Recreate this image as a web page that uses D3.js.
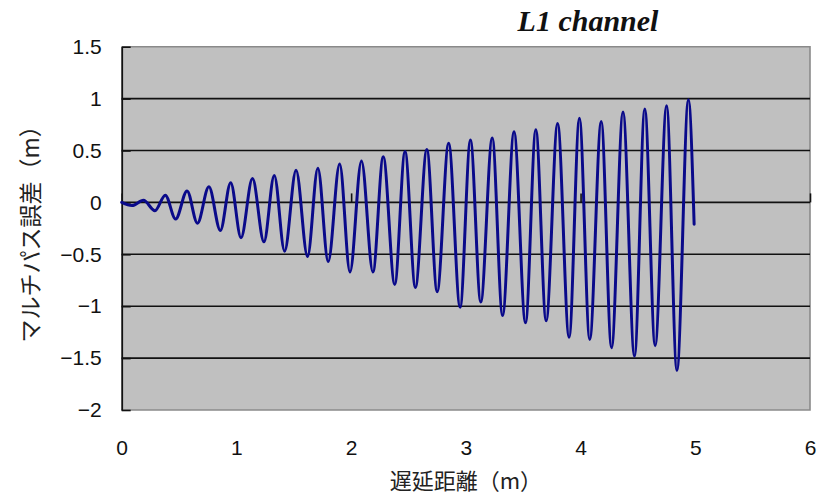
<!DOCTYPE html>
<html>
<head>
<meta charset="utf-8">
<script src="https://cdn.jsdelivr.net/npm/d3@7"></script>
<style>
  html, body { margin: 0; padding: 0; background: #fff; }
  svg { display: block; }
</style>
</head>
<body>
<svg id="chart" width="828" height="498"></svg>
<script>
// Multipath error of the L1 channel against the delay of the reflected path.
// Points are the successive crests and troughs of the error curve.
const delayM = [
  0.00, 0.09, 0.19, 0.29, 0.38, 0.47, 0.57, 0.66, 0.76, 0.86,
  0.95, 1.04, 1.14, 1.24, 1.33, 1.42, 1.52, 1.62, 1.71, 1.80,
  1.90, 1.99, 2.09, 2.19, 2.28, 2.38, 2.47, 2.56, 2.66, 2.75,
  2.85, 2.95, 3.04, 3.13, 3.23, 3.32, 3.42, 3.52, 3.61, 3.70,
  3.80, 3.90, 3.99, 4.08, 4.18, 4.27, 4.37, 4.47, 4.56, 4.65,
  4.75, 4.84, 4.94, 4.99
];
const errorM = [
  0.00, -0.03, 0.02, -0.08, 0.07, -0.16, 0.11, -0.20, 0.15, -0.27,
  0.19, -0.34, 0.23, -0.38, 0.26, -0.47, 0.31, -0.52, 0.33, -0.57,
  0.37, -0.67, 0.40, -0.67, 0.44, -0.79, 0.49, -0.82, 0.51, -0.86,
  0.57, -1.01, 0.60, -0.96, 0.62, -1.09, 0.68, -1.16, 0.70, -1.14,
  0.76, -1.30, 0.81, -1.32, 0.78, -1.40, 0.87, -1.48, 0.90, -1.38,
  0.93, -1.62, 0.99, -0.21
];
const xTicks = [0, 1, 2, 3, 4, 5, 6];
const xAxisMarks = [0, 2, 4, 6];
const yTicks = [-2, -1.5, -1, -0.5, 0, 0.5, 1, 1.5];
const gridValues = [-1.5, -1, -0.5, 0, 0.5, 1];

const titleText = "L1 channel";
const xTitle = "遅延距離（m）";
const yTitle = "マルチパス誤差（m）";

const svg = d3.select("#chart");
const plot = { left: 121.7, right: 810, top: 46.7, bottom: 410 };

const x = d3.scaleLinear().domain([0, 6]).range([plot.left, plot.right]);
const y = d3.scaleLinear().domain([-2, 1.5]).range([plot.bottom, plot.top]);

const tickFont = "Arial, 'Liberation Sans', sans-serif";
const cjkFont = "'Noto Sans CJK JP', 'Noto Sans', sans-serif";

// plot area
svg.append("rect")
  .attr("x", plot.left).attr("y", plot.top)
  .attr("width", plot.right - plot.left).attr("height", plot.bottom - plot.top)
  .attr("fill", "#c0c0c0");

// grey frame (top, right, bottom)
svg.append("path")
  .attr("d", `M${plot.left},${plot.top}H${plot.right}V${plot.bottom}H${plot.left}`)
  .attr("fill", "none").attr("stroke", "#8a8a8a").attr("stroke-width", 1.6);

// horizontal gridlines
svg.append("g").selectAll("line").data(gridValues).join("line")
  .attr("x1", plot.left).attr("x2", plot.right)
  .attr("y1", d => y(d)).attr("y2", d => y(d))
  .attr("stroke", "#111").attr("stroke-width", 1.6);

// y axis line with inward ticks
const yAxisG = svg.append("g")
  .attr("transform", `translate(${plot.left},0)`)
  .call(d3.axisRight(y).tickValues(yTicks).tickSize(9).tickSizeOuter(0).tickFormat(""));
yAxisG.select(".domain").attr("stroke", "#111").attr("stroke-width", 1.8);
yAxisG.selectAll(".tick line").attr("stroke", "#111").attr("stroke-width", 1.6);

// y tick labels
const yLab = svg.append("g")
  .attr("transform", `translate(${plot.left},0)`)
  .call(d3.axisLeft(y).tickValues(yTicks).tickSize(0).tickPadding(20)
    .tickFormat(d => d3.format("")(d).replace("-", "\u2212")));
yLab.select(".domain").remove();
yLab.selectAll("text").attr("font-family", tickFont).attr("font-size", 21).attr("fill", "#111");

// x axis ticks sitting on the zero line
const xAxisG = svg.append("g")
  .attr("transform", `translate(0,${y(0)})`)
  .call(d3.axisTop(x).tickValues(xAxisMarks).tickSize(9).tickSizeOuter(0).tickFormat(""));
xAxisG.select(".domain").remove();
xAxisG.selectAll(".tick line").attr("stroke", "#111").attr("stroke-width", 1.6);

// x tick labels below the plot area
const xLab = svg.append("g")
  .attr("transform", `translate(0,${plot.bottom})`)
  .call(d3.axisBottom(x).tickValues(xTicks).tickSize(0).tickPadding(30).tickFormat(d3.format("d")));
xLab.select(".domain").remove();
xLab.selectAll("text").attr("font-family", tickFont).attr("font-size", 21).attr("fill", "#111");

// error curve
const pts = delayM.map((d, i) => [d, errorM[i]]);
const line = d3.line()
  .x(d => x(d[0])).y(d => y(d[1]))
  .curve(d3.curveMonotoneX);
svg.append("path")
  .datum(pts)
  .attr("d", line)
  .attr("fill", "none")
  .attr("stroke", "#0a0a8a")
  .attr("stroke-width", 3)
  .attr("stroke-linejoin", "round")
  .attr("stroke-linecap", "round");

// titles
svg.append("text")
  .attr("x", 588).attr("y", 31)
  .attr("text-anchor", "middle")
  .attr("font-family", "'Liberation Serif', 'Times New Roman', serif")
  .attr("font-weight", "bold").attr("font-style", "italic")
  .attr("font-size", 30).attr("fill", "#111")
  .text(titleText);

svg.append("text")
  .attr("x", (plot.left + plot.right) / 2).attr("y", 489)
  .attr("text-anchor", "middle")
  .attr("font-family", cjkFont).attr("font-size", 22).attr("fill", "#222")
  .text(xTitle);

svg.append("text")
  .attr("transform", `translate(39,${(plot.top + plot.bottom) / 2}) rotate(-90)`)
  .attr("text-anchor", "middle")
  .attr("font-family", cjkFont).attr("font-size", 23).attr("fill", "#222")
  .text(yTitle);
</script>
</body>
</html>
